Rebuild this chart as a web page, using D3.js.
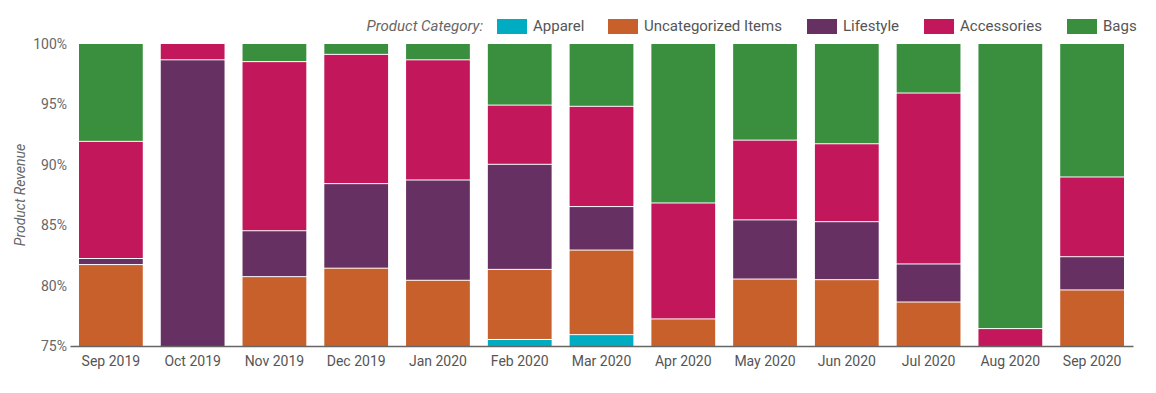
<!DOCTYPE html>
<html>
<head>
<meta charset="utf-8">
<script src="https://cdn.jsdelivr.net/npm/d3@7"></script>
<style>
  body { margin: 0; background: #fff; }
  text { font-family: Roboto, "Noto Sans", sans-serif; }
</style>
</head>
<body>
<svg width="1156" height="393"></svg>
<script>
// months on the x axis
var months = ["Sep 2019", "Oct 2019", "Nov 2019", "Dec 2019", "Jan 2020", "Feb 2020", "Mar 2020",
  "Apr 2020", "May 2020", "Jun 2020", "Jul 2020", "Aug 2020", "Sep 2020"];

// share of product revenue per category (%), stacked bottom to top
var apparel =       [68.0, 58.0, 67.0, 66.0, 65.0, 75.5, 75.9, 70.0, 66.0, 66.0, 65.0, 60.0, 66.0];
var uncategorized = [13.7, 12.0, 13.7, 15.4, 15.4,  5.8,  7.0,  7.2, 14.5, 14.45, 13.6, 10.0, 13.6];
var lifestyle =     [ 0.5, 28.65, 3.8,  7.0,  8.3,  8.7,  3.6,  0.0,  4.9,  4.8,  3.15, 3.0,  2.75];
var accessories =   [ 9.7,  1.35, 14.0, 10.7, 9.95, 4.9,  8.3,  9.6,  6.6,  6.45, 14.15, 3.4, 6.6];
var bags =          [ 8.1,  0.0,  1.5,  0.9,  1.35, 5.1,  5.2, 13.2,  8.0,  8.3,  4.1, 23.6, 11.05];

var categories = ["Apparel", "Uncategorized Items", "Lifestyle", "Accessories", "Bags"];
var colors = ["#00acc1", "#c8602b", "#673062", "#c2185b", "#3a8f3f"];
var yTicks = [75, 80, 85, 90, 95, 100];

var svg = d3.select("svg");

//build rows for the stack
var series = [apparel, uncategorized, lifestyle, accessories, bags];
var rows = months.map(function (m, i) {
  var r = { month: m };
  categories.forEach(function (c, k) { r[c] = series[k][i]; });
  return r;
});

var stacked = d3.stack().keys(categories)(rows);

//plot area edges (top is a reserved global, so prefix them)
var plotLeft = 70, plotRight = 1133, plotTop = 44, plotBottom = 346;

var x = d3.scaleBand()
  .domain(months)
  .range([plotLeft, plotRight])
  .paddingInner(0.22)
  .paddingOuter(0.11);

var y = d3.scaleLinear()
  .domain([75, 100])
  .range([plotBottom, plotTop]);

var color = d3.scaleOrdinal().domain(categories).range(colors);

//clip so anything below 75% is cut off
svg.append("defs").append("clipPath")
  .attr("id", "plot")
  .append("rect")
  .attr("x", plotLeft)
  .attr("y", plotTop)
  .attr("width", plotRight - plotLeft)
  .attr("height", plotBottom - plotTop);

var g = svg.append("g").attr("clip-path", "url(#plot)");

g.selectAll("g.layer")
  .data(stacked)
  .enter().append("g")
  .attr("class", "layer")
  .attr("fill", function (d) { return color(d.key); })
  .selectAll("rect")
  .data(function (d) { return d.filter(function (p) { return p[1] - p[0] > 0; }); })
  .enter().append("rect")
  .attr("x", function (d) { return x(d.data.month); })
  .attr("width", x.bandwidth())
  .attr("y", function (d) { return y(d[1]); })
  .attr("height", function (d) { return Math.max(0, y(d[0]) - y(d[1]) - 1); });

//y axis labels
var yAxis = svg.append("g")
  .attr("transform", "translate(" + plotLeft + ",0)")
  .call(d3.axisLeft(y).tickValues(yTicks).tickSize(0).tickPadding(3)
    .tickFormat(function (d) { return d + "%"; }));
yAxis.select(".domain").remove();
yAxis.selectAll("text")
  .attr("fill", "#666")
  .style("font-size", "14px");

//x axis
var xAxis = svg.append("g")
  .attr("transform", "translate(0," + plotBottom + ")")
  .call(d3.axisBottom(x).tickSize(0).tickPadding(10));
xAxis.select(".domain").attr("stroke", "#666").attr("stroke-width", 1.3);
xAxis.selectAll("text")
  .attr("fill", "#555")
  .style("font-size", "14px");

//axis title
svg.append("text")
  .attr("transform", "translate(25," + ((plotTop + plotBottom) / 2) + ") rotate(-90)")
  .attr("text-anchor", "middle")
  .attr("fill", "#666")
  .style("font-size", "14px")
  .style("font-style", "italic")
  .text("Product Revenue");

//legend
var legendX = [497, 608, 807, 924, 1067];
svg.append("text")
  .attr("x", 483)
  .attr("y", 31)
  .attr("text-anchor", "end")
  .attr("fill", "#666")
  .style("font-size", "15px")
  .style("font-style", "italic")
  .text("Product Category:");

var legend = svg.selectAll("g.legend")
  .data(categories)
  .enter().append("g")
  .attr("class", "legend")
  .attr("transform", function (d, i) { return "translate(" + legendX[i] + ",19)"; });

legend.append("rect")
  .attr("width", 30)
  .attr("height", 15)
  .attr("fill", function (d) { return color(d); });

legend.append("text")
  .attr("x", 36)
  .attr("y", 12)
  .attr("fill", "#555")
  .style("font-size", "15px")
  .text(function (d) { return d; });
</script>
</body>
</html>
